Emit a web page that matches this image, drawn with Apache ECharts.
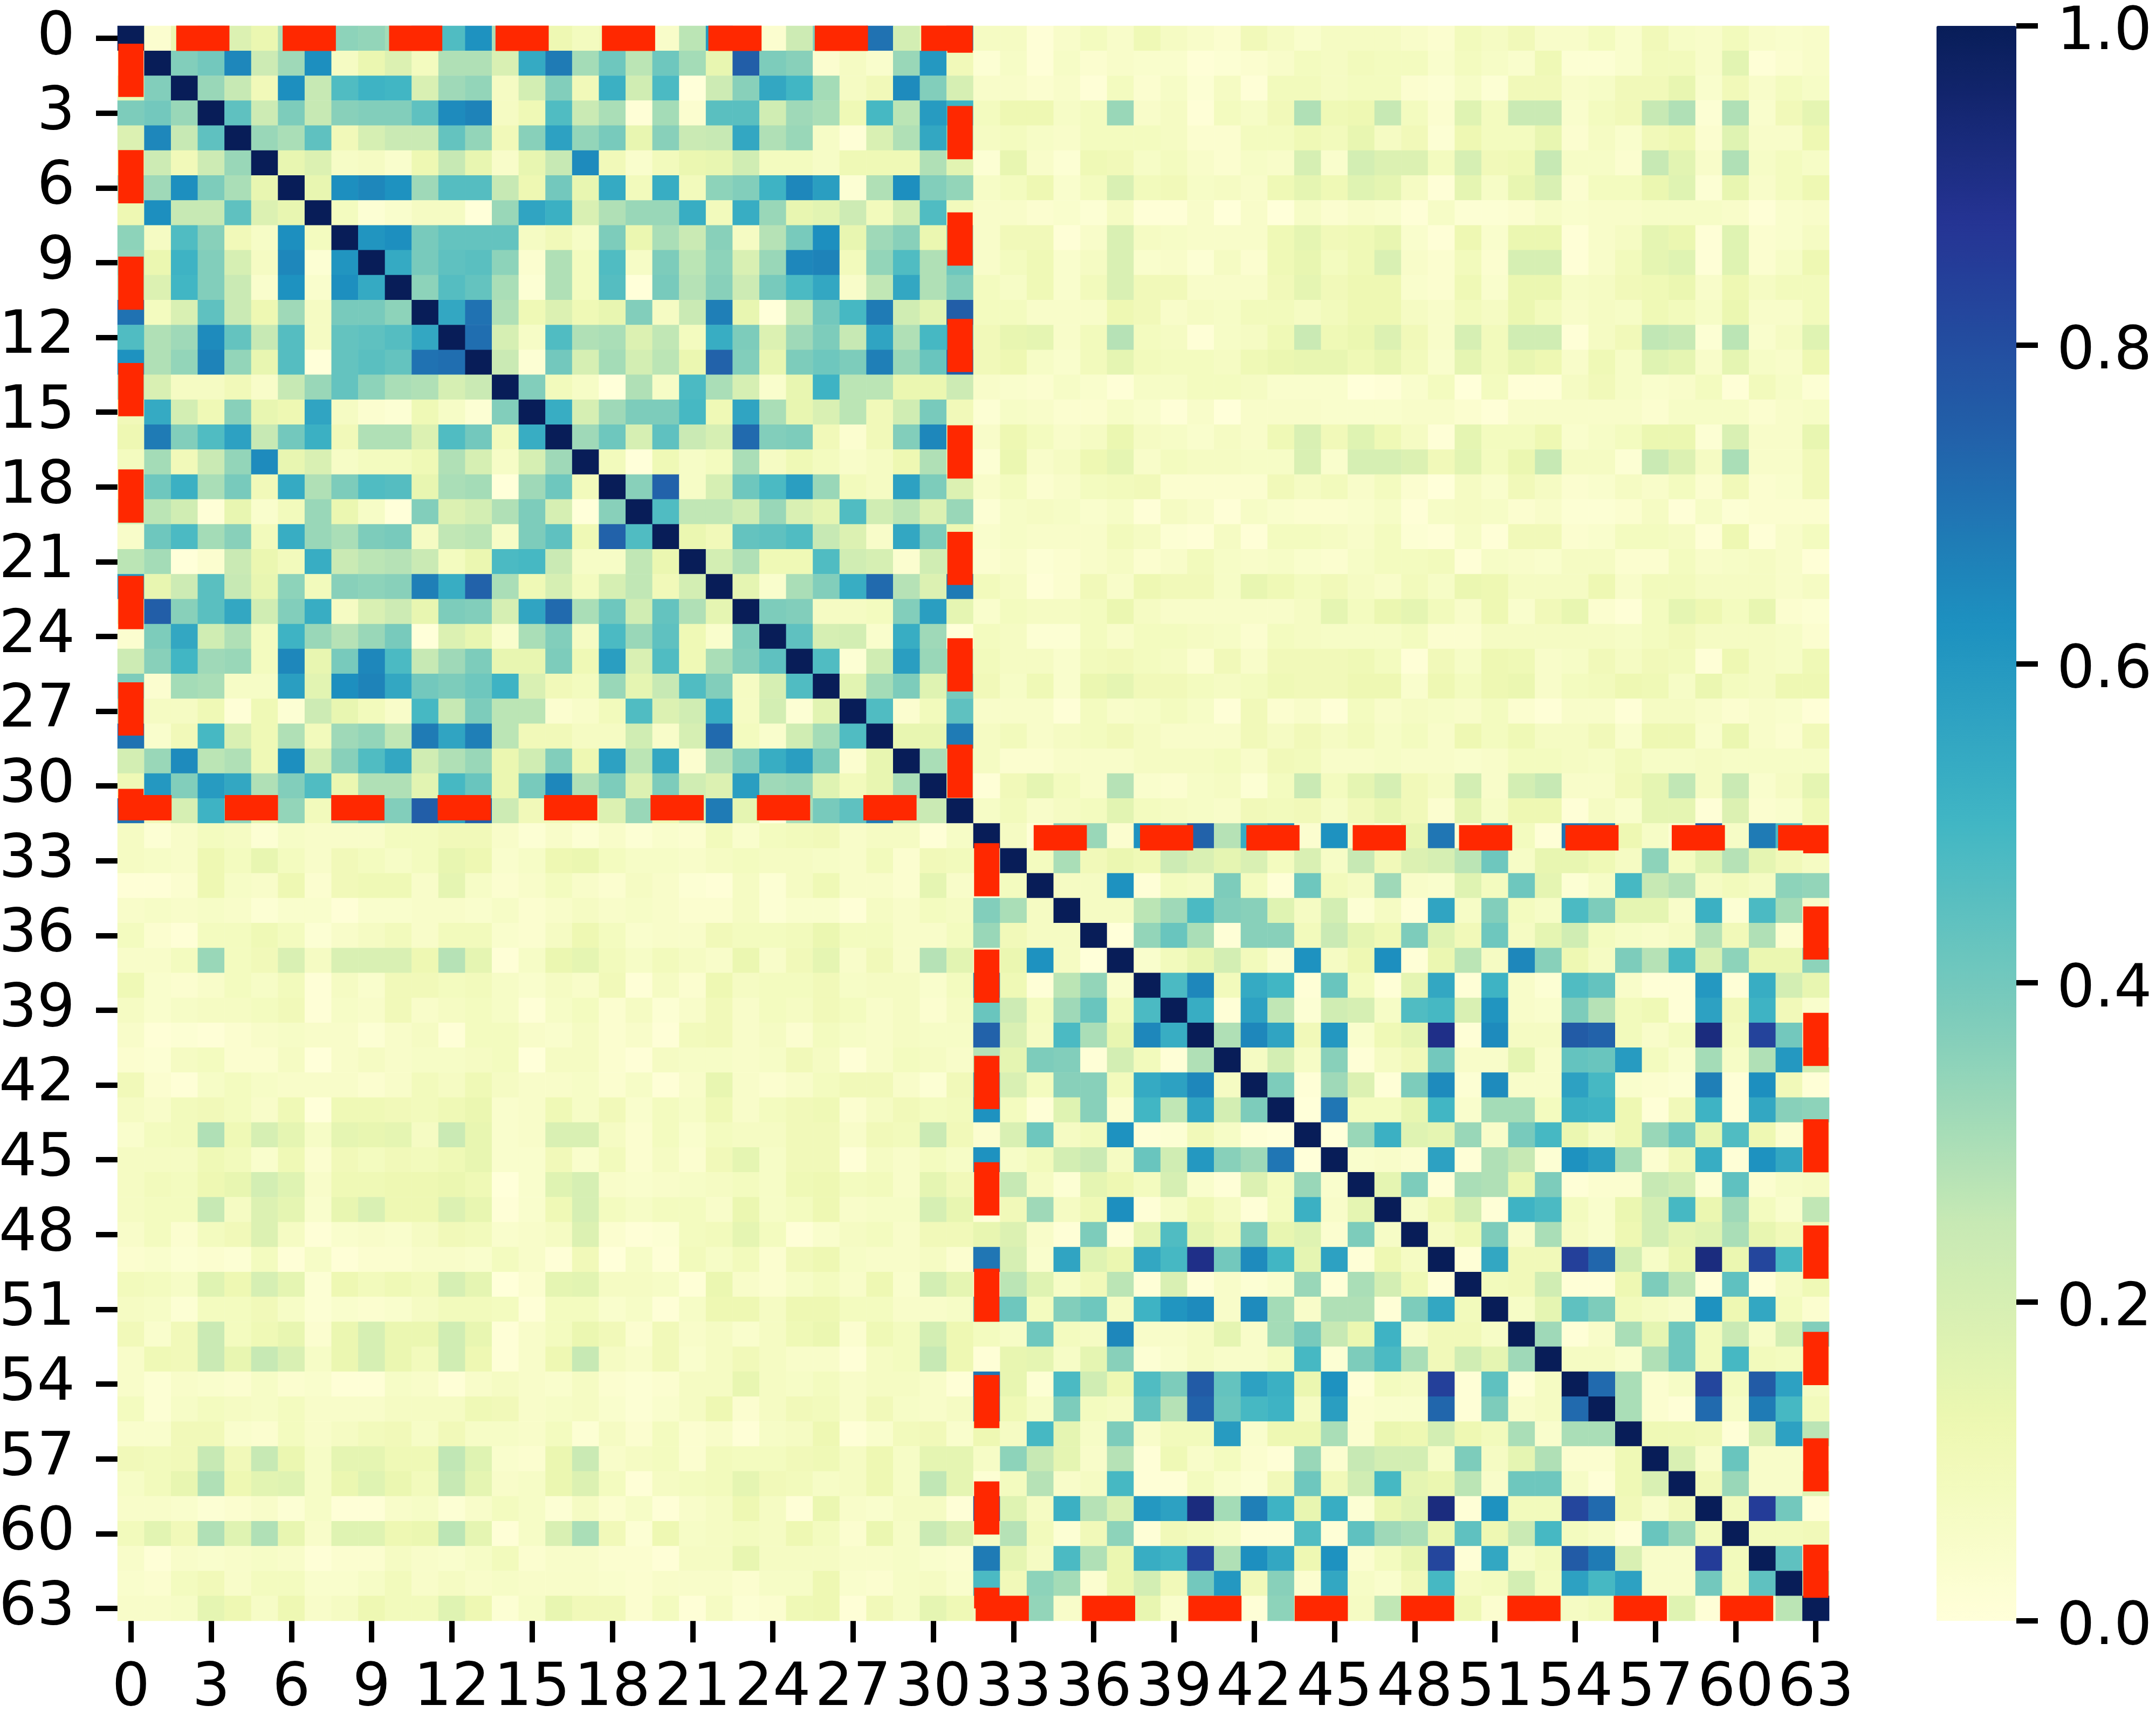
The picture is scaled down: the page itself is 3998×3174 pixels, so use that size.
<!DOCTYPE html>
<html><head><meta charset="utf-8">
<style>html,body{margin:0;padding:0;background:#fff}#c{width:3998px;height:3174px}</style>
<script src="https://cdn.jsdelivr.net/npm/echarts@6/dist/echarts.min.js"></script>
</head><body><div id="c"></div>
<script>
// Values are percent. The matrix is symmetric, so each row holds the cells from the diagonal rightwards.
// Upper block: rows 0-31, columns r..31
const a0=[100,3,13,38,18,13,30,12,35,34,31,70,47,62,30,10,12,8,10,22,5,27,60,15,3,23,38,30,70,21,11,70];
const a1=[100,37,40,65,23,32,63,7,13,18,8,29,29,19,54,68,31,41,27,41,31,14,75,38,36,3,7,4,33,60,10];
const a2=[100,33,25,10,63,25,47,51,50,19,32,34,7,21,37,10,52,22,48,0,23,36,55,50,31,7,10,64,37,20];
const a3=[100,44,23,38,25,36,37,37,44,64,66,7,11,47,24,30,1,31,3,45,45,22,32,30,11,49,27,59,51];
const a4=[100,33,30,44,10,20,24,24,43,34,10,36,57,34,39,14,36,24,25,55,29,33,6,1,19,29,55,35];
const a5=[100,14,18,6,7,4,12,25,14,5,14,25,64,10,4,9,13,14,22,8,8,6,11,11,11,29,16];
const a6=[100,14,63,65,62,32,46,46,25,12,40,14,54,9,53,9,35,37,51,65,58,2,29,63,37,34];
const a7=[100,8,2,4,7,7,0,33,56,52,19,29,33,33,53,9,53,33,14,16,23,9,21,47,9];
const a8=[100,61,63,39,43,43,43,7,10,6,38,13,30,24,36,7,28,39,63,14,32,36,13,35];
const a9=[100,54,39,44,45,35,3,29,8,47,6,38,27,35,19,33,65,66,9,34,47,29,41];
const a10=[100,35,46,43,30,2,29,8,46,0,39,28,36,23,39,48,55,5,26,55,29,37];
const a11=[100,55,70,29,11,18,11,14,37,7,24,67,14,0,25,40,49,68,22,16,75];
const a12=[100,71,20,6,47,29,30,18,26,8,53,38,18,32,38,25,56,29,49,57];
const a13=[100,24,2,40,20,31,21,27,13,74,37,14,38,41,38,67,33,42,75];
const a14=[100,37,9,6,0,29,6,48,30,20,4,14,51,27,27,13,13,23];
const a15=[100,53,20,32,38,38,49,11,56,30,14,19,27,10,22,39,10];
const a16=[100,32,41,20,44,24,20,72,37,38,10,3,10,37,65,10];
const a17=[100,9,0,11,6,8,30,7,11,8,5,7,12,29,10];
const a18=[100,36,74,6,20,41,48,58,33,9,7,57,38,18];
const a19=[100,47,26,26,22,33,19,15,47,22,27,18,33];
const a20=[100,13,10,43,44,47,25,18,5,55,38,12];
const a21=[100,21,29,11,11,47,22,20,3,22,20];
const a22=[100,15,4,30,37,53,72,28,18,68];
const a23=[100,38,37,7,7,8,37,58,15];
const a24=[100,44,20,21,4,53,32,0];
const a25=[100,47,2,22,58,33,30];
const a26=[100,16,31,38,17,39];
const a27=[100,47,3,9,44];
const a28=[100,14,14,68];
const a29=[100,30,24];
const a30=[100,24];
const a31=[100];
// Cross block: rows 0-31, columns 32..63
const x0=[7,7,1,5,8,5,11,7,5,3,10,7,4,7,7,7,5,3,9,7,10,5,5,8,4,10,6,5,9,5,4,5];
const x1=[2,6,1,6,3,5,4,4,1,2,3,5,8,7,9,8,8,4,8,6,4,11,2,2,4,9,9,5,16,1,3,5];
const x2=[5,5,3,5,1,8,3,6,2,7,1,9,9,7,8,8,3,2,6,2,10,10,5,6,10,10,14,4,10,5,8,6];
const x3=[8,12,12,6,8,33,5,7,1,8,6,10,29,11,12,25,8,3,17,8,24,24,4,8,10,25,29,2,29,4,10,15];
const x4=[7,8,6,5,8,8,8,7,3,3,8,8,11,9,14,7,10,2,12,8,8,14,3,7,4,10,12,3,17,5,5,12];
const x5=[2,14,5,2,11,10,6,8,5,3,6,5,20,4,21,18,18,8,20,10,11,25,6,6,3,25,16,5,29,6,8,6];
const x6=[6,8,12,4,8,19,9,10,6,7,5,11,15,11,17,15,7,1,15,6,14,19,3,8,8,13,17,2,14,5,8,12];
const x7=[5,5,3,4,2,7,1,1,5,0,5,0,6,3,5,4,1,6,2,2,3,6,4,5,5,6,6,6,5,1,4,5];
const x8=[5,10,10,1,5,19,7,6,5,5,5,11,15,10,11,14,4,1,12,4,13,13,1,5,7,15,13,1,17,3,4,7];
const x9=[5,8,11,4,7,19,4,5,2,7,3,11,14,8,11,19,5,3,9,3,20,20,1,5,9,15,17,1,17,3,6,12];
const x10=[8,6,11,4,9,19,10,10,5,5,5,10,15,10,12,12,4,3,11,4,13,13,6,7,10,11,13,5,12,7,9,9];
const x11=[8,8,5,5,5,12,10,5,7,6,9,9,7,9,12,12,7,5,9,7,13,9,5,7,6,11,9,6,13,5,5,9];
const x12=[10,14,15,5,9,28,8,7,1,6,7,11,24,11,13,18,10,5,20,9,22,22,1,7,10,26,25,2,27,4,7,17];
const x13=[10,12,6,4,9,15,9,8,8,7,11,13,14,14,11,14,9,4,15,9,14,12,5,11,6,17,15,5,15,6,5,12];
const x14=[5,4,3,6,4,1,6,6,8,8,7,4,4,4,0,1,4,8,0,8,1,1,7,10,6,4,5,8,1,9,6,2];
const x15=[2,6,5,3,3,6,4,1,5,0,5,5,5,4,4,4,5,5,3,1,5,5,5,5,5,3,6,6,6,3,5,6];
const x16=[5,12,8,5,7,13,7,6,4,7,5,11,19,10,17,11,7,1,15,8,8,12,4,6,8,13,13,2,19,5,5,14];
const x17=[2,13,5,7,12,15,5,8,7,7,6,6,19,4,20,20,18,10,16,8,13,25,7,7,2,24,18,7,30,5,5,10];
const x18=[5,8,3,5,8,9,10,3,3,3,3,10,7,9,5,8,3,0,7,4,10,7,3,4,7,5,8,3,10,3,4,10];
const x19=[2,6,7,6,4,6,1,7,5,1,6,4,3,3,4,6,1,6,7,6,3,5,2,2,3,7,1,6,2,3,3,3];
const x20=[4,6,5,5,5,9,7,2,1,7,1,8,8,7,5,8,2,1,6,1,10,10,3,4,8,8,7,1,12,1,5,8];
const x21=[3,5,2,3,5,7,3,5,9,6,5,6,4,3,6,8,8,9,1,6,5,4,7,7,3,3,8,5,6,7,5,1];
const x22=[9,7,1,3,10,5,12,10,10,6,14,11,8,10,7,5,9,6,13,12,7,7,7,12,5,9,9,7,7,7,5,7];
const x23=[4,8,7,7,8,13,7,5,5,5,5,5,7,15,8,13,15,9,5,12,4,10,14,3,1,8,15,12,8,14,3,2];
const x24=[8,7,2,2,8,5,8,8,7,6,3,8,7,6,6,6,8,3,3,7,7,7,7,7,6,8,10,7,7,7,6,3];
const x25=[9,7,7,4,9,10,8,7,3,10,5,10,10,10,11,8,1,10,6,12,11,5,6,10,7,10,9,1,12,7,6,11];
const x26=[10,6,11,4,13,15,10,10,8,7,8,11,10,10,12,12,4,12,8,12,13,5,8,9,12,11,6,13,8,7,12,12];
const x27=[5,5,5,1,8,5,6,8,6,1,10,3,5,1,8,5,7,6,5,8,3,1,5,5,1,7,7,5,3,5,4,1];
const x28=[7,9,5,7,8,10,7,5,5,5,10,7,10,7,9,6,8,5,12,8,11,7,7,10,4,12,12,4,13,5,3,10];
const x29=[7,3,3,5,5,5,7,7,7,8,5,10,9,5,5,6,5,5,4,5,8,8,7,6,9,6,6,7,6,6,6,6];
const x30=[1,10,15,8,5,28,4,3,6,7,2,8,24,8,15,20,10,7,21,5,21,25,5,5,10,15,26,7,24,4,7,15];
const x31=[6,9,5,7,8,16,8,7,6,5,10,9,10,6,10,14,10,3,15,6,12,12,1,7,4,15,15,1,18,3,4,11];
// Lower block: rows 32-63, columns r..63
const b32=[100,7,1,37,33,3,62,42,74,28,53,62,3,62,5,1,14,69,2,50,8,1,69,65,12,6,2,76,6,68,48,8];
const b33=[100,8,30,10,13,11,23,19,15,19,8,19,6,25,10,18,20,27,41,6,14,14,11,7,35,8,17,28,15,10,7];
const b34=[100,7,7,62,1,8,7,38,8,1,41,9,7,32,5,4,17,8,41,15,2,6,49,25,28,7,9,7,35,34];
const b35=[100,7,7,27,32,48,37,36,17,7,21,2,7,1,56,6,37,8,6,48,38,15,15,5,52,2,48,31,5];
const b36=[100,0,34,42,30,1,36,36,9,24,15,11,38,17,10,41,7,15,22,8,6,5,7,28,10,29,3,8];
const b37=[100,4,9,14,21,9,3,62,7,12,63,1,13,27,7,65,36,12,7,38,28,49,19,35,13,13,35];
const b38=[100,48,65,9,54,50,1,42,8,1,15,55,1,51,5,2,47,43,5,1,1,60,1,53,21,14];
const b39=[100,53,1,57,26,2,22,20,6,47,49,19,61,5,4,38,28,9,11,1,57,10,51,10,4];
const b40=[100,29,65,56,10,60,4,11,15,90,1,64,7,7,76,74,9,5,8,92,8,83,40,5];
const b41=[100,7,21,6,36,1,7,10,40,5,5,15,5,43,42,59,8,4,31,6,29,60,20];
const b42=[100,38,1,32,18,1,38,64,2,64,5,5,57,49,4,3,2,67,1,63,10,1];
const b43=[100,0,69,8,8,14,50,4,31,31,8,52,51,12,1,10,51,1,55,36,35];
const b44=[100,0,33,52,17,15,33,5,39,49,13,7,12,33,41,14,47,12,3,10];
const b45=[100,4,5,3,57,1,29,25,2,62,58,30,3,10,53,1,62,55,10];
const b46=[100,15,38,1,30,29,13,38,1,3,3,25,22,2,44,3,6,7];
const b47=[100,6,12,21,1,51,48,8,4,13,21,49,13,32,8,4,26];
const b48=[100,7,11,38,5,30,7,4,12,21,15,17,30,14,10,10];
const b49=[100,1,55,10,10,84,73,21,6,13,92,13,82,49,5];
const b50=[100,9,10,22,1,1,12,38,27,1,44,1,7,11];
const b51=[100,6,15,44,38,9,7,5,62,12,55,8,3];
const b52=[100,32,1,5,30,15,41,9,24,6,21,37];
const b53=[100,7,7,4,29,41,9,49,9,8,10];
const b54=[100,72,30,3,6,82,8,76,57,7];
const b55=[100,30,3,1,72,6,68,49,9];
const b56=[100,11,11,10,1,19,57,27];
const b57=[100,19,5,42,5,5,5];
const b58=[100,10,33,5,5,17];
const b59=[100,9,85,40,1];
const b60=[100,9,9,10];
const b61=[100,44,4];
const b62=[100,27];
const b63=[100];

const upperRows=[a0,a1,a2,a3,a4,a5,a6,a7,a8,a9,a10,a11,a12,a13,a14,a15,a16,a17,a18,a19,a20,a21,a22,a23,a24,a25,a26,a27,a28,a29,a30,a31];
const crossRows=[x0,x1,x2,x3,x4,x5,x6,x7,x8,x9,x10,x11,x12,x13,x14,x15,x16,x17,x18,x19,x20,x21,x22,x23,x24,x25,x26,x27,x28,x29,x30,x31];
const lowerRows=[b32,b33,b34,b35,b36,b37,b38,b39,b40,b41,b42,b43,b44,b45,b46,b47,b48,b49,b50,b51,b52,b53,b54,b55,b56,b57,b58,b59,b60,b61,b62,b63];
const categories=Array.from({length:64},(_,i)=>String(i));
const ylgnbu=['#ffffd9','#edf8b1','#c7e9b4','#7fcdbb','#41b6c4','#1d91c0','#225ea8','#253494','#081d58'];
// Dashed outlines of the two blocks, in cell coordinates
const blockAPath=[[0.5,0.5],[31.5,0.5],[31.5,31.37],[0.026,31.37]];
const blockALeft=[[0.5,31.37],[0.5,0.5]];
const blockBPath=[[32.5,32.58],[63.5,32.58],[63.5,63.5],[32.03,63.5]];
const blockBLeft=[[32.5,63.5],[32.5,32.58]];

const heat=[];
for(let r=0;r<32;r++){
  const full=upperRows[r].concat(crossRows[r]);
  full.forEach((v,k)=>{const c=r+k;heat.push([c,r,v/100]);if(c!==r)heat.push([r,c,v/100]);});
}
for(let r=32;r<64;r++){
  lowerRows[r-32].forEach((v,k)=>{const c=r+k;heat.push([c,r,v/100]);if(c!==r)heat.push([r,c,v/100]);});
}
const FONT='DejaVu Sans';
const G={left:218,top:48,width:3174,height:2957};
const CB={left:3591,top:48,width:148,height:2957};
const tick=()=>({show:true,length:40,alignWithLabel:true,interval:2,lineStyle:{color:'#000',width:10}});
const dash=(data,period,off)=>({type:'line',xAxisIndex:1,yAxisIndex:1,data,showSymbol:false,symbol:'none',clip:false,silent:true,z:5,animation:false,
  lineStyle:{color:'#ff2800',width:47,type:[period/2,period/2],dashOffset:off,cap:'butt',join:'miter',miterLimit:4}});
const chart=echarts.init(document.getElementById('c'),null,{renderer:'canvas',width:3998,height:3174,devicePixelRatio:1});
chart.setOption({
  animation:false,backgroundColor:'#fff',
  grid:[Object.assign({},G,{containLabel:false,outerBoundsMode:'none'}),Object.assign({},CB,{containLabel:false,outerBoundsMode:'none'})],
  xAxis:[
    {type:'category',gridIndex:0,data:categories,position:'bottom',axisLine:{show:false,onZero:false},axisTick:tick(),splitLine:{show:false},
     axisLabel:{interval:2,margin:72,fontSize:111,fontFamily:FONT,color:'#000'}},
    {type:'value',gridIndex:0,min:0,max:64,show:false},
    {type:'value',gridIndex:1,min:0,max:1,show:false}
  ],
  yAxis:[
    {type:'category',gridIndex:0,data:categories,inverse:true,axisLine:{show:false,onZero:false},axisTick:tick(),splitLine:{show:false},
     axisLabel:{interval:2,margin:79,fontSize:111,fontFamily:FONT,color:'#000',padding:[16,0,0,0]}},
    {type:'value',gridIndex:0,min:0,max:64,inverse:true,show:false},
    {type:'value',gridIndex:1,min:0,max:1,interval:0.2,position:'right',
     axisLine:{show:true,onZero:false,lineStyle:{color:'rgba(0,0,0,0)',width:0}},splitLine:{show:false},
     axisTick:{show:true,inside:false,length:40,lineStyle:{color:'#000',width:10}},
     axisLabel:{margin:75,fontSize:111,fontFamily:FONT,color:'#000',verticalAlign:'top',lineHeight:29,formatter:v=>v.toFixed(1)}}
  ],
  visualMap:[{type:'continuous',seriesIndex:0,dimension:2,min:0,max:1,calculable:false,show:true,hoverLink:false,
    left:CB.left,top:CB.top,itemWidth:CB.width,itemHeight:CB.height,padding:0,text:['',''],showLabel:false,inRange:{color:ylgnbu}}],
  series:[
    {type:'heatmap',xAxisIndex:0,yAxisIndex:0,data:heat,progressive:0,animation:false,silent:true,itemStyle:{borderWidth:0},emphasis:{disabled:true}},
    dash(blockAPath,197.35,113.35),
    dash(blockALeft,197.35,63.7),
    dash(blockBPath,197.2,110.2),
    dash(blockBLeft,197.2,60.3)
  ]
});
</script></body></html>
